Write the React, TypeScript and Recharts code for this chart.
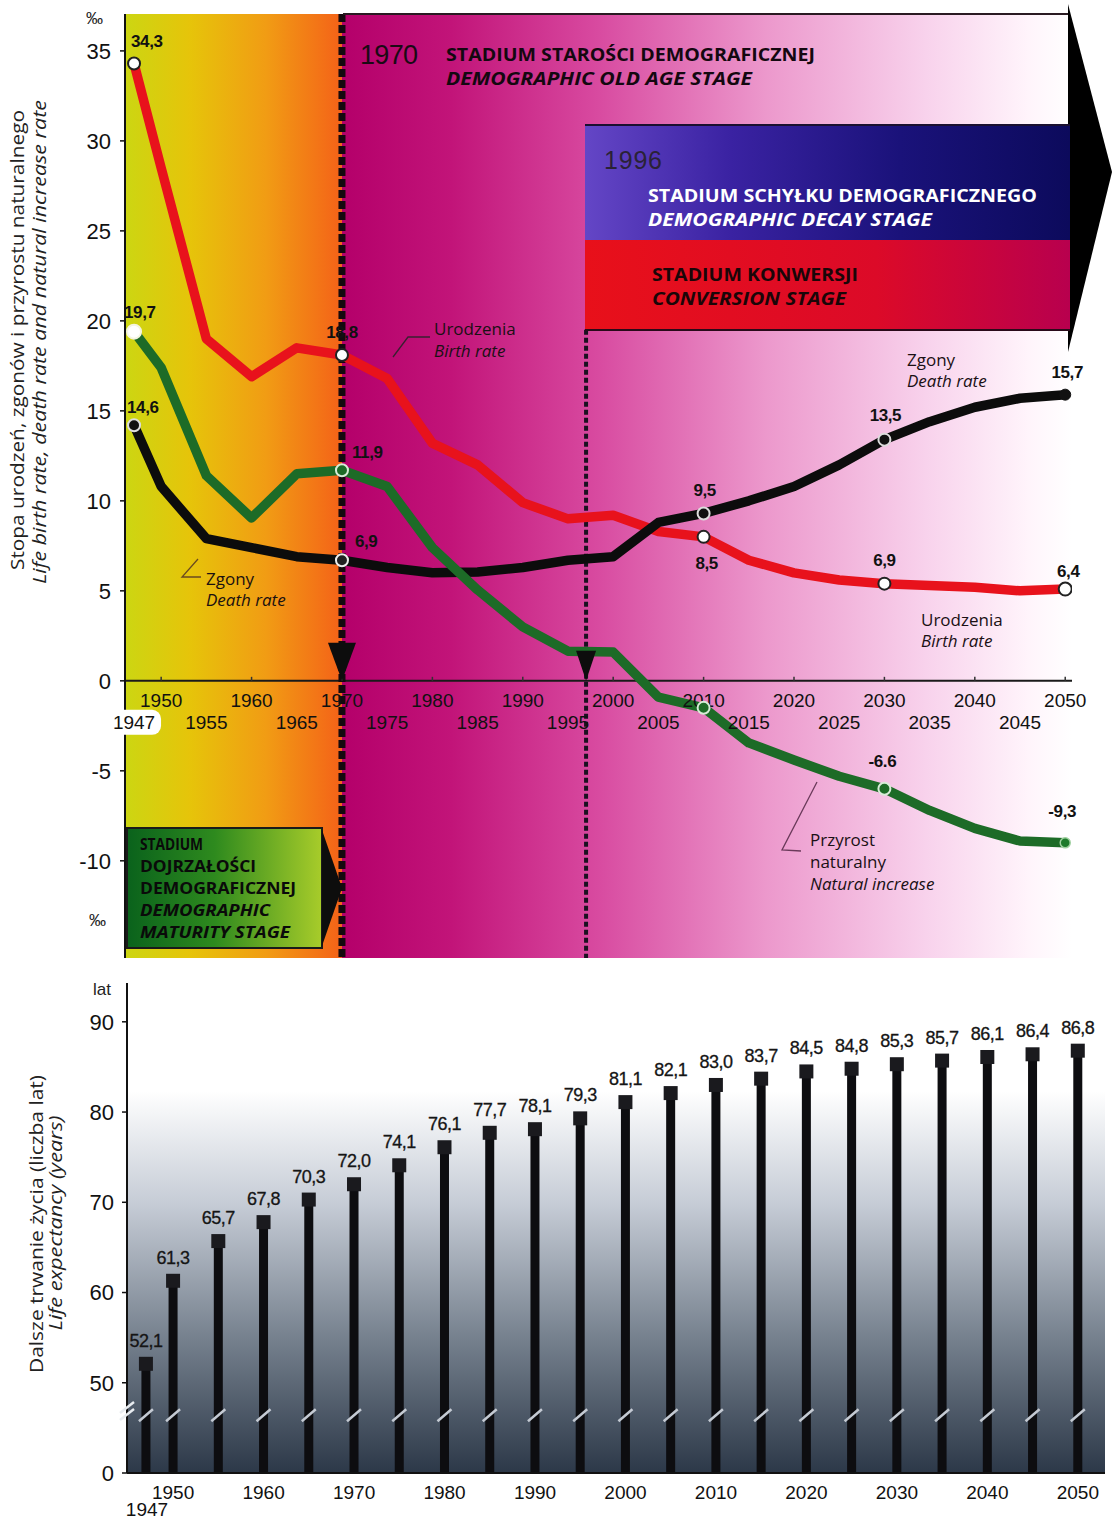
import React from 'react';
import {
  ComposedChart, Line, Bar, XAxis, YAxis, ReferenceArea, ReferenceLine, ReferenceDot,
} from 'recharts';

// --- górny wykres: stopa urodzeń / zgonów / przyrostu (‰) ---
const rateYears = [1947, 1950, 1955, 1960, 1965, 1970, 1975, 1980, 1985, 1990, 1995, 2000, 2005, 2010, 2015, 2020, 2025, 2030, 2035, 2040, 2045, 2050];
const birthRate = [34.3, 28.5, 19.0, 16.9, 18.5, 18.1, 16.8, 13.2, 12.0, 9.9, 9.0, 9.2, 8.3, 8.0, 6.7, 6.0, 5.6, 5.4, 5.3, 5.2, 5.0, 5.1];
const deathRate = [14.2, 10.8, 7.9, 7.4, 6.9, 6.7, 6.3, 6.0, 6.05, 6.3, 6.7, 6.9, 8.8, 9.3, 10.0, 10.8, 12.0, 13.4, 14.4, 15.2, 15.7, 15.9];
const naturalIncrease = [19.4, 17.4, 11.4, 9.05, 11.5, 11.7, 10.8, 7.4, 5.05, 3.0, 1.65, 1.6, -0.9, -1.5, -3.45, -4.4, -5.3, -6.0, -7.2, -8.2, -8.9, -9.0];

const rateTicks = [-10, -5, 0, 5, 10, 15, 20, 25, 30, 35];
const decadeTicks = [1950, 1960, 1970, 1980, 1990, 2000, 2010, 2020, 2030, 2040, 2050];
const halfDecadeTicks = [1947, 1955, 1965, 1975, 1985, 1995, 2005, 2015, 2025, 2035, 2045];

// granice stadiów (rok, zakres ‰)
const oldAgeStart = [{ year: 1970, v: 37.05 }, { year: 1970, v: -15.4 }];
const decayStart = [{ year: 1997, v: 19.5 }, { year: 1997, v: -15.4 }];

const birthLabels: Record<number, string> = { 1947: '34,3', 1970: '18,8', 2010: '8,5', 2030: '6,9', 2050: '6,4' };
const deathLabels: Record<number, string> = { 1947: '14,6', 1970: '6,9', 2010: '9,5', 2030: '13,5', 2050: '15,7' };
const naturalLabels: Record<number, string> = { 1947: '19,7', 1970: '11,9', 2030: '-6.6', 2050: '-9,3' };

// --- dolny wykres: dalsze trwanie życia ---
const lifeYears = [1947, 1950, 1955, 1960, 1965, 1970, 1975, 1980, 1985, 1990, 1995, 2000, 2005, 2010, 2015, 2020, 2025, 2030, 2035, 2040, 2045, 2050];
const lifeExpectancy = [52.1, 61.3, 65.7, 67.8, 70.3, 72.0, 74.1, 76.1, 77.7, 78.1, 79.3, 81.1, 82.1, 83.0, 83.7, 84.5, 84.8, 85.3, 85.7, 86.1, 86.4, 86.8];
const lifeTickValues = [0, 50, 60, 70, 80, 90];
const lifeLabels = ['52,1', '61,3', '65,7', '67,8', '70,3', '72,0', '74,1', '76,1', '77,7', '78,1', '79,3', '81,1', '82,1', '83,0', '83,7', '84,5', '84,8', '85,3', '85,7', '86,1', '86,4', '86,8'];

// oś z przerwą: 0..50 ściśnięte do 1/5
const toBroken = (v: number) => (v >= 50 ? v - 40 : v / 5);
const BREAK_AT = 32;

const rateData = rateYears.map((year, i) => ({
  year, birth: birthRate[i], death: deathRate[i], natural: naturalIncrease[i],
}));
const lifeData = lifeYears.map((year, i) => ({
  year, value: lifeExpectancy[i], shown: toBroken(lifeExpectancy[i]), label: lifeLabels[i],
}));

const NUM_FONT = "'Liberation Sans', Arial, sans-serif";
const TXT_FONT = "'Open Sans', 'Noto Sans', sans-serif";

type DotStyle = { fill: string; stroke: string; r: number; sw: number };

const birthDots: Record<number, DotStyle> = {
  1947: { fill: '#fff', stroke: '#222', r: 6, sw: 2 },
  1970: { fill: '#fff', stroke: '#222', r: 6, sw: 2 },
  2010: { fill: '#fff', stroke: '#222', r: 6, sw: 2 },
  2030: { fill: '#fff', stroke: '#222', r: 6, sw: 2 },
  2050: { fill: '#fff', stroke: '#222', r: 6.5, sw: 2 },
};
const deathDots: Record<number, DotStyle> = {
  1947: { fill: '#111', stroke: '#ddd', r: 6, sw: 2 },
  1970: { fill: '#222', stroke: '#eee', r: 6, sw: 2 },
  2010: { fill: '#111', stroke: '#ddd', r: 6, sw: 2 },
  2030: { fill: '#111', stroke: '#ddd', r: 6, sw: 2 },
  2050: { fill: '#111', stroke: '#111', r: 5.5, sw: 1 },
};
const naturalDots: Record<number, DotStyle> = {
  1947: { fill: '#fff', stroke: '#f4f4e0', r: 7, sw: 2 },
  1970: { fill: '#1d6b27', stroke: '#d8ecd8', r: 6, sw: 2 },
  2010: { fill: '#1d6b27', stroke: '#d8ecd8', r: 6, sw: 2 },
  2030: { fill: '#1d6b27', stroke: '#d8ecd8', r: 6, sw: 2 },
  2050: { fill: '#1d7a2a', stroke: '#9fd09f', r: 5, sw: 1.5 },
};

type LabelPos = { dx: number; dy: number; anchor: 'start' | 'middle' | 'end' };
const birthLabelPos: Record<number, LabelPos> = {
  1947: { dx: -3, dy: -16, anchor: 'start' },
  1970: { dx: 0, dy: -17, anchor: 'middle' },
  2010: { dx: 3, dy: 32, anchor: 'middle' },
  2030: { dx: 0, dy: -18, anchor: 'middle' },
  2050: { dx: 3, dy: -12, anchor: 'middle' },
};
const deathLabelPos: Record<number, LabelPos> = {
  1947: { dx: -7, dy: -12, anchor: 'start' },
  1970: { dx: 13, dy: -13, anchor: 'start' },
  2010: { dx: 1, dy: -17, anchor: 'middle' },
  2030: { dx: 1, dy: -19, anchor: 'middle' },
  2050: { dx: 2, dy: -17, anchor: 'middle' },
};
const naturalLabelPos: Record<number, LabelPos> = {
  1947: { dx: -10, dy: -14, anchor: 'start' },
  1970: { dx: 10, dy: -12, anchor: 'start' },
  2030: { dx: -2, dy: -22, anchor: 'middle' },
  2050: { dx: -3, dy: -26, anchor: 'middle' },
};

const makeDot = (styles: Record<number, DotStyle>) => (p: any) => {
  const year = p.payload?.year;
  const s = styles[year];
  if (!s || p.cx == null) return <g key={`d-${p.index}`} />;
  return <circle key={`d-${p.index}`} cx={p.cx} cy={p.cy} r={s.r} fill={s.fill} stroke={s.stroke} strokeWidth={s.sw} />;
};

const makeLabel = (texts: Record<number, string>, pos: Record<number, LabelPos>) => (p: any) => {
  const year = rateYears[p.index];
  const t = texts[year];
  if (!t || p.x == null) return <g key={`l-${p.index}`} />;
  const o = pos[year];
  return (
    <text key={`l-${p.index}`} x={p.x + o.dx} y={p.y + o.dy} textAnchor={o.anchor}
      fontFamily={NUM_FONT} fontWeight={700} fontSize={17} fill="#111" letterSpacing={-0.4}>
      {t}
    </text>
  );
};

const upperTick = (label: string) => (p: any) => (
  <g>
    <line x1={p.cx} y1={p.cy - 4} x2={p.cx} y2={p.cy} stroke="#333" strokeWidth={1.5} />
    <text x={p.cx} y={p.cy + 26} textAnchor="middle" fontFamily={NUM_FONT} fontSize={19} fill="#111">{label}</text>
  </g>
);

const lowerTick = (label: string, boxed: boolean) => (p: any) => (
  <g>
    {boxed && <rect x={p.cx - 29} y={p.cy + 29} width={56} height={25} rx={9} fill="#fff" />}
    <text x={p.cx} y={p.cy + 48} textAnchor="middle" fontFamily={NUM_FONT} fontSize={19} fill="#111">{label}</text>
  </g>
);

const arrowHead = (w: number, h: number) => (p: any) => (
  <polygon points={`${p.cx - w / 2},${p.cy - h} ${p.cx + w / 2},${p.cy - h} ${p.cx},${p.cy}`} fill="#0d0d0d" />
);

const RatesChart = () => (
  <ComposedChart width={1112} height={965} data={rateData} margin={{ top: 14, right: 40, bottom: 7, left: 65 }}>
    <defs>
      <linearGradient id="matureBg" x1="0" y1="0" x2="1" y2="0">
        <stop offset="0%" stopColor="#ccd612" />
        <stop offset="30%" stopColor="#e6c40a" />
        <stop offset="65%" stopColor="#f19c14" />
        <stop offset="100%" stopColor="#f46218" />
      </linearGradient>
      <linearGradient id="oldAgeBg" x1="0" y1="0" x2="1" y2="0">
        <stop offset="0%" stopColor="#b4006a" />
        <stop offset="15%" stopColor="#c21479" />
        <stop offset="35%" stopColor="#d84aa0" />
        <stop offset="58%" stopColor="#ec98cc" />
        <stop offset="80%" stopColor="#f8d2ec" />
        <stop offset="94%" stopColor="#fff4fb" />
        <stop offset="100%" stopColor="#ffffff" />
      </linearGradient>
    </defs>
    <XAxis type="number" dataKey="year" domain={[1946, 2050.75]} hide allowDataOverflow />
    <YAxis type="number" domain={[-15.4, 37.05]} ticks={rateTicks} interval={0} allowDataOverflow width={60}
      tick={{ fontSize: 22, fill: '#111', fontFamily: NUM_FONT }} tickSize={5} tickMargin={9}
      axisLine={{ stroke: '#111', strokeWidth: 2 }} tickLine={{ stroke: '#111', strokeWidth: 1.5 }} />
    <ReferenceArea x1={1946} x2={1970} y1={-15.4} y2={37.05} fill="url(#matureBg)" fillOpacity={1} stroke="none" />
    <ReferenceArea x1={1970} x2={2050.75} y1={-15.4} y2={37.05} fill="url(#oldAgeBg)" fillOpacity={1} stroke="none" />
    <ReferenceLine y={0} stroke="#1a1a1a" strokeWidth={2} />
    {decadeTicks.map((t) => (
      <ReferenceDot key={`u${t}`} x={t} y={0} shape={upperTick(String(t))} />
    ))}
    {halfDecadeTicks.map((t) => (
      <ReferenceDot key={`h${t}`} x={t} y={0} shape={lowerTick(String(t), t === 1947)} />
    ))}
    <Line data={oldAgeStart} dataKey="v" type="linear" stroke="#140a0e" strokeWidth={7} strokeDasharray="8 3"
      strokeLinecap="butt" dot={false} activeDot={false} isAnimationActive={false} />
    <Line data={decayStart} dataKey="v" type="linear" stroke="#1a1020" strokeWidth={4} strokeDasharray="5 3"
      strokeLinecap="butt" dot={false} activeDot={false} isAnimationActive={false} />
    <ReferenceDot x={1970} y={0} shape={arrowHead(28, 38)} />
    <ReferenceDot x={1997} y={0} shape={arrowHead(20, 30)} />
    <Line type="linear" dataKey="birth" stroke="#e8121c" strokeWidth={9.5} strokeLinejoin="round"
      dot={makeDot(birthDots)} label={makeLabel(birthLabels, birthLabelPos)} isAnimationActive={false} />
    <Line type="linear" dataKey="death" stroke="#0c0c0c" strokeWidth={9.5} strokeLinejoin="round"
      dot={makeDot(deathDots)} label={makeLabel(deathLabels, deathLabelPos)} isAnimationActive={false} />
    <Line type="linear" dataKey="natural" stroke="#1d6b27" strokeWidth={9.5} strokeLinejoin="round"
      dot={makeDot(naturalDots)} label={makeLabel(naturalLabels, naturalLabelPos)} isAnimationActive={false} />
  </ComposedChart>
);

const LifeBar = (p: any) => {
  const { x, y, width, height, payload } = p;
  if (x == null || !payload) return <g />;
  const cx = x + width / 2;
  const base = y + height;
  const breakY = base - height * (toBroken(BREAK_AT) / payload.shown);
  return (
    <g>
      <rect x={x} y={y} width={width} height={height} fill="#0d0d10" />
      <rect x={cx - 7} y={y - 7} width={14} height={14} fill="#1a1a1e" />
      <line x1={cx - 7} y1={breakY + 6} x2={cx + 7} y2={breakY - 6} stroke="#c4cad3" strokeWidth={2.5} />
      <text x={cx} y={y - 17} textAnchor="middle" fontFamily={NUM_FONT} fontSize={18} fill="#151515"
        stroke="#151515" strokeWidth={0.3} letterSpacing={-0.5}>{payload.label}</text>
    </g>
  );
};

const LifeChart = () => (
  <ComposedChart width={1112} height={557} data={lifeData} margin={{ top: 18, right: 7, bottom: 0, left: 67 }}>
    <defs>
      <linearGradient id="lifeBg" x1="0" y1="0" x2="0" y2="1">
        <stop offset="0%" stopColor="#ffffff" />
        <stop offset="22%" stopColor="#ffffff" />
        <stop offset="45%" stopColor="#c6ccd6" />
        <stop offset="72%" stopColor="#77828f" />
        <stop offset="100%" stopColor="#2c3848" />
      </linearGradient>
    </defs>
    <XAxis type="number" dataKey="year" domain={[1944.9, 2053]} ticks={decadeTicks} interval={0} allowDataOverflow
      height={49} tickSize={0} tickMargin={13} tickLine={false}
      axisLine={{ stroke: '#111', strokeWidth: 2 }} tick={{ fontSize: 19, fill: '#111', fontFamily: NUM_FONT }} />
    <YAxis type="number" domain={[0, 54.3]} ticks={lifeTickValues.map(toBroken)} interval={0} allowDataOverflow width={60}
      tickFormatter={(v: number) => String(lifeTickValues[lifeTickValues.map(toBroken).indexOf(v)] ?? v)}
      tick={{ fontSize: 22, fill: '#111', fontFamily: NUM_FONT }} tickSize={5} tickMargin={8}
      axisLine={{ stroke: '#111', strokeWidth: 2 }} tickLine={{ stroke: '#111', strokeWidth: 1.5 }} />
    <ReferenceArea x1={1944.9} x2={2053} y1={0} y2={54.3} fill="url(#lifeBg)" fillOpacity={1} stroke="none" />
    <Bar dataKey="shown" barSize={9} shape={LifeBar} isAnimationActive={false} />
  </ComposedChart>
);

const Overlay = () => (
  <svg width={1112} height={1522} style={{ position: 'absolute', left: 0, top: 0, pointerEvents: 'none' }}>
    <defs>
      <linearGradient id="decayBg" x1="0" y1="0" x2="1" y2="0">
        <stop offset="0%" stopColor="#6446c6" />
        <stop offset="30%" stopColor="#3a22a2" />
        <stop offset="65%" stopColor="#1a127a" />
        <stop offset="100%" stopColor="#0c0a5c" />
      </linearGradient>
      <linearGradient id="conversionBg" x1="0" y1="0" x2="1" y2="0">
        <stop offset="0%" stopColor="#e8101a" />
        <stop offset="60%" stopColor="#dc0a28" />
        <stop offset="100%" stopColor="#b8004e" />
      </linearGradient>
      <linearGradient id="maturityBg" x1="0" y1="0" x2="1" y2="0">
        <stop offset="0%" stopColor="#0a621c" />
        <stop offset="45%" stopColor="#2e8a1e" />
        <stop offset="100%" stopColor="#a8cc2a" />
      </linearGradient>
    </defs>

    {/* stadium starości - ramka górna i strzałka */}
    <line x1={343} y1={14} x2={1070} y2={14} stroke="#2a1a22" strokeWidth={2} />
    <polygon points="1068,4 1112,172 1068,352" fill="#000" />
    <text x={360} y={64} fontFamily={NUM_FONT} fontSize={27} fill="#1a0a14" textLength={58}>1970</text>
    <text x={446} y={61} fontFamily={TXT_FONT} fontWeight={700} fontSize={18} fill="#140810" textLength={369} lengthAdjust="spacingAndGlyphs">STADIUM STAROŚCI DEMOGRAFICZNEJ</text>
    <text x={446} y={85} fontFamily={TXT_FONT} fontWeight={700} fontStyle="italic" fontSize={18} fill="#140810" textLength={306} lengthAdjust="spacingAndGlyphs">DEMOGRAPHIC OLD AGE STAGE</text>

    {/* stadium schyłku / konwersji */}
    <rect x={585} y={125} width={485} height={115} fill="url(#decayBg)" />
    <rect x={585} y={240} width={485} height={90} fill="url(#conversionBg)" />
    <line x1={585} y1={125} x2={1070} y2={125} stroke="#1a1030" strokeWidth={2} />
    <line x1={585} y1={330} x2={1070} y2={330} stroke="#2a0a1a" strokeWidth={2} />
    <text x={604} y={169} fontFamily={NUM_FONT} fontSize={25} fill="#2a2236" textLength={58}>1996</text>
    <text x={648} y={202} fontFamily={TXT_FONT} fontWeight={700} fontSize={18} fill="#fff" textLength={389} lengthAdjust="spacingAndGlyphs">STADIUM SCHYŁKU DEMOGRAFICZNEGO</text>
    <text x={648} y={226} fontFamily={TXT_FONT} fontWeight={700} fontStyle="italic" fontSize={18} fill="#fff" textLength={284} lengthAdjust="spacingAndGlyphs">DEMOGRAPHIC DECAY STAGE</text>
    <text x={652} y={281} fontFamily={TXT_FONT} fontWeight={700} fontSize={18} fill="#1a0608" textLength={206} lengthAdjust="spacingAndGlyphs">STADIUM KONWERSJI</text>
    <text x={652} y={305} fontFamily={TXT_FONT} fontWeight={700} fontStyle="italic" fontSize={18} fill="#1a0608" textLength={194} lengthAdjust="spacingAndGlyphs">CONVERSION STAGE</text>

    {/* stadium dojrzałości */}
    <rect x={127} y={828} width={195} height={120} fill="url(#maturityBg)" stroke="#1a1a1a" strokeWidth={2} />
    <polygon points="322,830 342,888 322,946" fill="#0d0d0d" />
    <text x={140} y={850} fontFamily={TXT_FONT} fontWeight={700} fontSize={16} fill="#0a0a0a" textLength={63} lengthAdjust="spacingAndGlyphs">STADIUM</text>
    <text x={140} y={872} fontFamily={TXT_FONT} fontWeight={700} fontSize={16} fill="#0a0a0a" textLength={116} lengthAdjust="spacingAndGlyphs">DOJRZAŁOŚCI</text>
    <text x={140} y={894} fontFamily={TXT_FONT} fontWeight={700} fontSize={16} fill="#0a0a0a" textLength={156} lengthAdjust="spacingAndGlyphs">DEMOGRAFICZNEJ</text>
    <text x={140} y={916} fontFamily={TXT_FONT} fontWeight={700} fontStyle="italic" fontSize={16} fill="#0a0a0a" textLength={130} lengthAdjust="spacingAndGlyphs">DEMOGRAPHIC</text>
    <text x={140} y={938} fontFamily={TXT_FONT} fontWeight={700} fontStyle="italic" fontSize={16} fill="#0a0a0a" textLength={150} lengthAdjust="spacingAndGlyphs">MATURITY STAGE</text>

    {/* opisy serii */}
    <polyline points="393,357 408,337 430,337" fill="none" stroke="#3a2030" strokeWidth={1.3} />
    <text x={434} y={335} fontFamily={TXT_FONT} fontSize={17} fill="#1a1014">Urodzenia</text>
    <text x={434} y={357} fontFamily={TXT_FONT} fontStyle="italic" fontSize={17} fill="#1a1014">Birth rate</text>
    <polyline points="198,559 182,577 201,577" fill="none" stroke="#6a4a20" strokeWidth={1.3} />
    <text x={206} y={585} fontFamily={TXT_FONT} fontSize={17} fill="#1a1010">Zgony</text>
    <text x={206} y={606} fontFamily={TXT_FONT} fontStyle="italic" fontSize={17} fill="#1a1010">Death rate</text>
    <text x={907} y={366} fontFamily={TXT_FONT} fontSize={17} fill="#1a1014">Zgony</text>
    <text x={907} y={387} fontFamily={TXT_FONT} fontStyle="italic" fontSize={17} fill="#1a1014">Death rate</text>
    <text x={921} y={626} fontFamily={TXT_FONT} fontSize={17} fill="#1a1014">Urodzenia</text>
    <text x={921} y={647} fontFamily={TXT_FONT} fontStyle="italic" fontSize={17} fill="#1a1014">Birth rate</text>
    <polyline points="817,782 782,850 801,851" fill="none" stroke="#6a3a5a" strokeWidth={1.3} />
    <text x={810} y={846} fontFamily={TXT_FONT} fontSize={17} fill="#1a1014">Przyrost</text>
    <text x={810} y={868} fontFamily={TXT_FONT} fontSize={17} fill="#1a1014">naturalny</text>
    <text x={810} y={890} fontFamily={TXT_FONT} fontStyle="italic" fontSize={17} fill="#1a1014">Natural increase</text>

    {/* tytuły osi */}
    <text x={86} y={24} fontFamily={NUM_FONT} fontSize={17} fill="#222">‰</text>
    <text x={89} y={926} fontFamily={NUM_FONT} fontSize={17} fill="#222">‰</text>
    <text transform="rotate(-90 24 340)" x={24} y={340} textAnchor="middle" fontFamily={TXT_FONT} fontSize={18} fill="#222" textLength={460} lengthAdjust="spacingAndGlyphs">Stopa urodzeń, zgonów i przyrostu naturalnego</text>
    <text transform="rotate(-90 46 342)" x={46} y={342} textAnchor="middle" fontFamily={TXT_FONT} fontStyle="italic" fontSize={18} fill="#222" textLength={484} lengthAdjust="spacingAndGlyphs">Life birth rate, death rate and natural increase rate</text>

    <text x={93} y={995} fontFamily={NUM_FONT} fontSize={17} fill="#222">lat</text>
    <text transform="rotate(-90 43 1224)" x={43} y={1224} textAnchor="middle" fontFamily={TXT_FONT} fontSize={18} fill="#222" textLength={298} lengthAdjust="spacingAndGlyphs">Dalsze trwanie życia (liczba lat)</text>
    <text transform="rotate(-90 62 1223)" x={62} y={1223} textAnchor="middle" fontFamily={TXT_FONT} fontStyle="italic" fontSize={18} fill="#222" textLength={215} lengthAdjust="spacingAndGlyphs">Life expectancy (years)</text>
    <text x={147} y={1516} textAnchor="middle" fontFamily={NUM_FONT} fontSize={19} fill="#111">1947</text>

    {/* przerwa osi */}
    <line x1={120} y1={1413} x2={134} y2={1402} stroke="#e8ecf0" strokeWidth={2.5} />
    <line x1={120} y1={1420} x2={134} y2={1409} stroke="#e8ecf0" strokeWidth={2.5} />
  </svg>
);

export default function App() {
  return (
    <div style={{ position: 'absolute', left: 0, top: 0, width: 1112, height: 1522, background: '#fff' }}>
      <div style={{ position: 'absolute', left: 0, top: 0 }}>
        <RatesChart />
      </div>
      <div style={{ position: 'absolute', left: 0, top: 965 }}>
        <LifeChart />
      </div>
      <Overlay />
    </div>
  );
}
